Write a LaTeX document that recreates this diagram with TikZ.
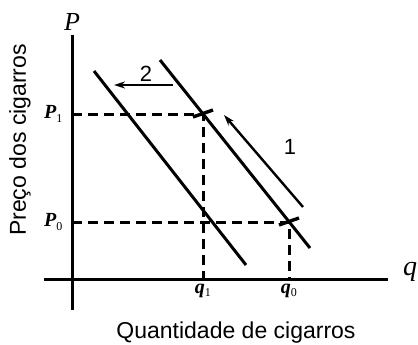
\documentclass[tikz,border=0pt]{standalone}
\usepackage{fontspec}
\setmainfont{Liberation Serif}
\setsansfont{Liberation Sans}
\usetikzlibrary{arrows.meta,positioning}

\begin{document}
\begin{tikzpicture}[
  x=1pt, y=-1pt,
  axis/.style={line width=3pt},
  dem/.style={line width=3pt},
  guide/.style={line width=3pt, dash pattern=on 10pt off 6pt},
  arr/.style={-{Stealth[length=11pt,width=7pt]}, line width=2.4pt},
  cross/.style={line width=3.4pt},
  lbl/.style={font=\bfseries\itshape\fontsize{20}{20}\selectfont, inner sep=1pt},
  ttl/.style={font=\sffamily\fontsize{23}{23}\selectfont, inner sep=0pt},
]
\useasboundingbox (0,0) rectangle (418,345);

% ---- axes ----
\coordinate (ybot) at (72,310);
\coordinate (ytop) at (72,35);
\coordinate (xl) at (44,279);
\coordinate (xr) at (388,279);
\draw[axis] (ybot) -- (ytop);
\draw[axis] (xl) -- (xr);
\node[font=\itshape\fontsize{26}{26}\selectfont, inner sep=0pt] (plab) at (72,22) {P};
\node[font=\itshape\fontsize{28}{28}\selectfont, inner sep=0pt] (qlab) at (410,272) {q};

% ---- demand curves ----
\coordinate (d0a) at (160,60);
\coordinate (d0b) at (310,248);
\coordinate (d1a) at (94,71);
\coordinate (d1b) at (246,265);
\draw[dem] (d0a) -- (d0b);
\draw[dem] (d1a) -- (d1b);

% ---- equilibrium points ----
\coordinate (E1) at (203,114);
\coordinate (E0) at (289,222);
\coordinate (p1) at (72,114);
\coordinate (p0) at (72,222);
\coordinate (q1) at (203,279);
\coordinate (q0) at (289,279);
\draw[guide] (p1) -- (E1) -- (q1);
\draw[guide] (p0) -- (E0) -- (q0);
\draw[cross] ([shift={(-10,3)}]E1) -- ([shift={(10,-4)}]E1);
\draw[cross] ([shift={(-10,3)}]E0) -- ([shift={(10,-4)}]E0);

\node[lbl, anchor=east] (P1) at (64,114) {P\textsubscript{\normalfont\fontsize{12}{12}\selectfont 1}};
\node[lbl, anchor=east] (P0) at (64,222) {P\textsubscript{\normalfont\fontsize{12}{12}\selectfont 0}};
\node[lbl, below=4pt of q1] (Q1) {q\textsubscript{\normalfont\fontsize{12}{12}\selectfont 1}};
\node[lbl, below=4pt of q0] (Q0) {q\textsubscript{\normalfont\fontsize{12}{12}\selectfont 0}};

% ---- shifts ----
\coordinate (a1s) at (303,207);
\coordinate (a1e) at (224,115);
\coordinate (a2s) at (173,85);
\coordinate (a2e) at (114,85);
\draw[arr] (a1s) -- (a1e);
\draw[arr] (a2s) -- (a2e);
\node[font=\sffamily\fontsize{22}{22}\selectfont] (n1) at (290,147) {1};
\node[font=\sffamily\fontsize{22}{22}\selectfont] (n2) at (146,74) {2};

% ---- axis titles ----
\node[ttl] (xt) at (236,333) {Quantidade de cigarros};
\node[ttl, rotate=90] (yt) at (20,140) {Preço dos cigarros};
\end{tikzpicture}
\end{document}
